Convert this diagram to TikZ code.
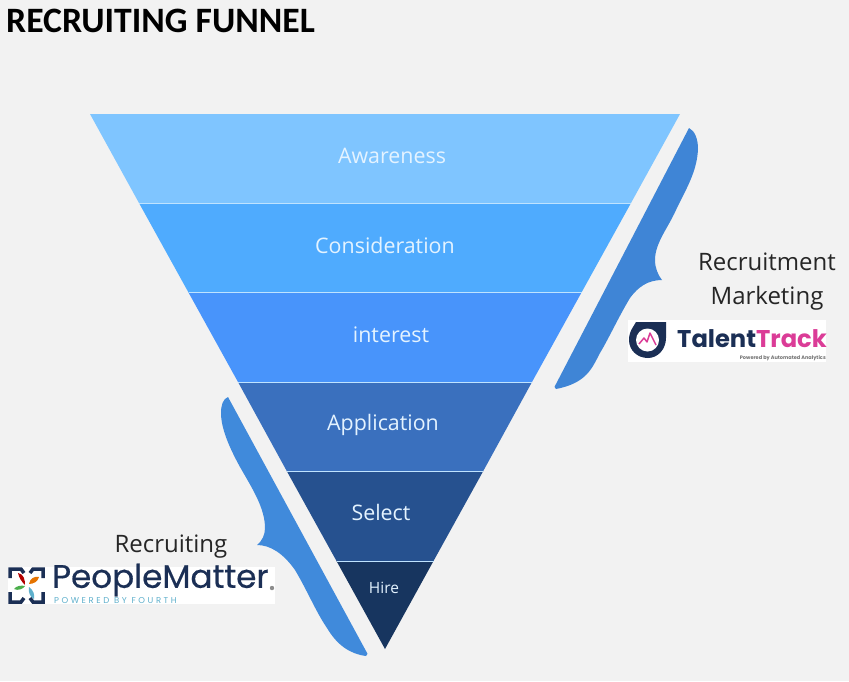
\documentclass[tikz,border=0pt]{standalone}
\usepackage{fontspec}
\setmainfont{Open Sans}
\newfontfamily\titlefont{Carlito}
\newfontfamily\logofont{Poppins}
\newfontfamily\peoplefont[FakeBold=0.5]{Poppins}
\newfontfamily\fourthfont[LetterSpace=30]{Poppins}
\definecolor{pagegrey}{HTML}{F2F2F2}
\definecolor{sliceA}{HTML}{7FC5FF}
\definecolor{sliceB}{HTML}{4FABFE}
\definecolor{sliceC}{HTML}{4894FB}
\definecolor{sliceD}{HTML}{3A70BE}
\definecolor{sliceE}{HTML}{26518F}
\definecolor{sliceF}{HTML}{17355F}
\definecolor{slicerule}{HTML}{BFE3FF}
\definecolor{slicelabel}{HTML}{E4F3FF}
\definecolor{braceR}{HTML}{3F85D6}
\definecolor{braceL}{HTML}{408ADB}
\definecolor{navy}{HTML}{1B2F55}
\definecolor{trackpink}{HTML}{DB3C97}
\definecolor{fourthblue}{HTML}{5FB0CC}
\tikzset{
  slicetext/.style={text=slicelabel,font=\fontsize{21.4}{25}\selectfont,inner sep=0pt},
  sidetext/.style={text=black!85,font=\fontsize{24}{34}\selectfont,align=center,inner sep=0pt},
  logobox/.style={fill=white,draw=none},
  define coordinates/.style={
    execute at begin picture={
      \coordinate (TL) at (90,114);
      \coordinate (TR) at (680,114);
      \coordinate (A1) at (139,203);
      \coordinate (B1) at (631,203);
      \coordinate (A2) at (188.5,292.5);
      \coordinate (B2) at (581.5,292.5);
      \coordinate (A3) at (238,382);
      \coordinate (B3) at (532,382);
      \coordinate (A4) at (287,471.5);
      \coordinate (B4) at (483,471.5);
      \coordinate (A5) at (336.5,561);
      \coordinate (B5) at (433.5,561);
      \coordinate (apex) at (385,649);
   }
 },
}

\begin{document}
\begin{tikzpicture}[x=1pt,y=-1pt,define coordinates]

\fill [pagegrey] (0,0) rectangle (849,681);
\useasboundingbox (0,0) rectangle (849,681);

\node (title) [anchor=west,inner sep=0pt] at (6,21)
  {\titlefont\bfseries\fontsize{35.7}{40}\selectfont RECRUITING FUNNEL};

% Draw the funnel slices, top to bottom
\fill [sliceA] (TL) -- (TR) -- (B1) -- (A1) -- cycle;
\fill [sliceB] (A1) -- (B1) -- (B2) -- (A2) -- cycle;
\fill [sliceC] (A2) -- (B2) -- (B3) -- (A3) -- cycle;
\fill [sliceD] (A3) -- (B3) -- (B4) -- (A4) -- cycle;
\fill [sliceE] (A4) -- (B4) -- (B5) -- (A5) -- cycle;
\fill [sliceF] (A5) -- (B5) -- (apex) -- cycle;

% thin rules between slices
\draw [slicerule,line width=1pt] (A1) -- (B1);
\draw [slicerule,line width=1pt] (A2) -- (B2);
\draw [slicerule,line width=1pt] (A3) -- (B3);
\draw [slicerule,line width=1pt] (A4) -- (B4);
\draw [slicerule,line width=1pt] (A5) -- (B5);

\node (awareness)     [slicetext] at (392,156) {Awareness};
\node (consideration) [slicetext] at (385,245) {Consideration};
\node (interest)      [slicetext] at (391,335) {interest};
\node (application)   [slicetext] at (383,425) {Application};
\node (select)        [slicetext] at (381,512) {Select};
\node (hire) [slicetext,font=\fontsize{15.5}{18}\selectfont] at (384,588) {Hire};

% Right brace
\fill [braceR] (689,128) .. controls (695,131) and (698,139) .. (698,149)
  .. controls (697,172) and (686,189) .. (676,210)
  .. controls (668,228) and (655,243) .. (655,260)
  .. controls (655,268) and (658,275) .. (662,280)
  .. controls (648,280) and (638,287) .. (630,298)
  .. controls (618,318) and (609,338) .. (600,353)
  .. controls (592,368) and (587,383) .. (556,389)
  .. controls (554,388) and (554,386) .. (556,384)
  -- cycle;

% Left brace
\fill [braceL] (228,397) .. controls (223,399) and (221,405) .. (221,413)
  .. controls (221,428) and (229,447) .. (240,467)
  .. controls (252,488) and (265,508) .. (265,528)
  .. controls (265,535) and (262,541) .. (257,545)
  .. controls (270,545) and (283,553) .. (295,570)
  .. controls (307,590) and (316,612) .. (327,628)
  .. controls (337,645) and (350,654) .. (366,656)
  .. controls (368,655) and (368,653) .. (366,651)
  -- cycle;

\node (marketing) [sidetext] at (767,281.5) {Recruitment\\Marketing};
\node (recruiting) [sidetext] at (171,546.5) {Recruiting};

% TalentTrack logo
\fill [logobox] (628,320) rectangle (826,362);
\fill [navy] (636,322) -- (666,322) -- (666,338)
  .. controls (666,349) and (658,358) .. (648,358)
  .. controls (637,358) and (629,350) .. (629,340)
  .. controls (629,331) and (634,326) .. (636,322) -- cycle;
\fill [white] (647.5,340) circle (11.5);
\draw [trackpink,line width=1.5pt,line join=round] (639,344) -- (644,338) -- (647,342) -- (650,333) -- (656,345);
\node (talent) [anchor=west,inner sep=0pt,text=navy] at (677,339)
  {\logofont\bfseries\fontsize{24.2}{28}\selectfont Talent\textcolor{trackpink}{Track}};
\node (powered) [anchor=east,inner sep=0pt,text=black!55] at (826,358)
  {\logofont\bfseries\fontsize{5}{6}\selectfont Powered by Automated Analytics};

% PeopleMatter logo
\fill [logobox] (8,567) rectangle (275,604);
\draw [navy,line width=3.5pt] (10,578) -- (10,569) -- (21,569) -- (24,573);
\draw [navy,line width=3.5pt] (43,578) -- (43,569) -- (33,569) -- (30,573);
\draw [navy,line width=3.5pt] (10,592) -- (10,602) -- (21,602) -- (24,598);
\draw [navy,line width=3.5pt] (43,592) -- (43,602) -- (33,602) -- (30,598);
\fill [red!70!black] (18,573) .. controls (24,574) and (25,580) .. (25,585) .. controls (22,582) and (19,578) .. (18,573) -- cycle;
\fill [orange!90!black] (29,584) .. controls (30,578) and (35,576) .. (39,577) .. controls (38,581) and (34,584) .. (29,584) -- cycle;
\fill [green!55!black!70] (14,589) .. controls (16,586) and (21,585) .. (25,586) .. controls (23,589) and (18,591) .. (14,589) -- cycle;
\fill [fourthblue] (29,587) .. controls (33,590) and (35,594) .. (34,599) .. controls (30,597) and (28,592) .. (29,587) -- cycle;
\node (people) [anchor=west,inner sep=0pt,text=navy] at (52,580)
  {\peoplefont\fontsize{32.6}{38}\selectfont PeopleMatter};
\node (fourth) [anchor=west,inner sep=0pt,text=fourthblue] at (54,600.5)
  {\fourthfont\fontsize{8.5}{10}\selectfont POWERED BY FOURTH};
\fill [black!45] (272,588) circle (2.2);

\end{tikzpicture}
\end{document}
